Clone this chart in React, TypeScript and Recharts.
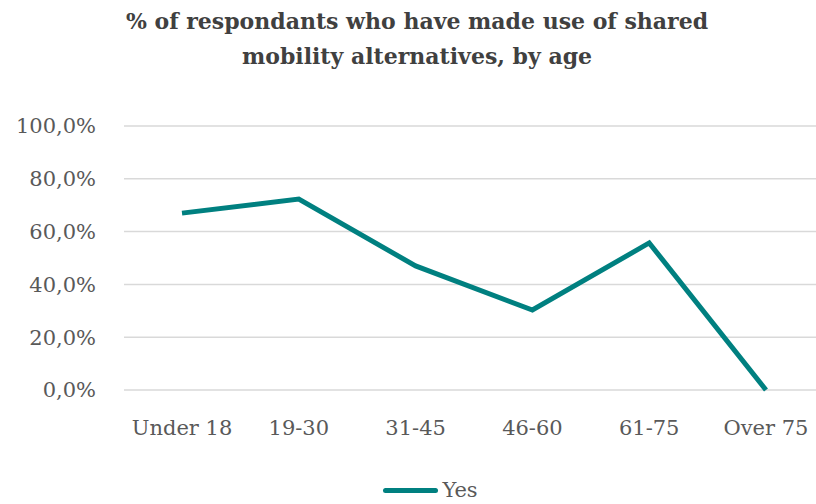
import { LineChart, Line, XAxis, YAxis, CartesianGrid, Legend } from "recharts";

const AGE_GROUPS = ["Under 18", "19-30", "31-45", "46-60", "61-75", "Over 75"];
const YES_SHARE = [0.67, 0.723, 0.47, 0.303, 0.557, 0];
const Y_TICKS = [0, 0.2, 0.4, 0.6, 0.8, 1];

const TEAL = "#008080";
const FONT = "'DejaVu Serif', serif";

const data = AGE_GROUPS.map((age, i) => ({ age, yes: YES_SHARE[i] }));

const fmtPct = (v: number) => (v * 100).toFixed(1).replace(".", ",") + "%";

function LegendContent() {
  return (
    <div
      style={{
        display: "flex",
        justifyContent: "center",
        alignItems: "center",
        fontFamily: FONT,
        fontSize: 21,
        color: "#595959",
      }}
    >
      <span
        style={{
          display: "inline-block",
          width: 55,
          height: 5,
          borderRadius: 3,
          background: TEAL,
          marginRight: 4,
        }}
      />
      Yes
    </div>
  );
}

export default function App() {
  return (
    <div style={{ position: "absolute", left: 0, top: 0, width: 816, height: 504, background: "#fff" }}>
      <div
        style={{
          position: "absolute",
          left: 0,
          width: 834,
          top: 4,
          textAlign: "center",
          fontFamily: FONT,
          fontWeight: "bold",
          fontSize: 22,
          lineHeight: "35px",
          color: "#404040",
        }}
      >
        % of respondants who have made use of shared
        <br />
        mobility alternatives, by age
      </div>
      <LineChart
        width={816}
        height={504}
        data={data}
        margin={{ top: 126, right: 0, left: 0, bottom: 24 }}
      >
        <CartesianGrid vertical={false} stroke="#d9d9d9" strokeWidth={1.5} />
        <XAxis
          dataKey="age"
          height={60}
          axisLine={false}
          tickLine={false}
          padding={{ left: 58, right: 50 }}
          tick={{ fontSize: 21, fill: "#595959", fontFamily: FONT }}
          tickMargin={24}
          interval={0}
        />
        <YAxis
          width={124}
          domain={[0, 1]}
          ticks={Y_TICKS}
          tickFormatter={fmtPct}
          axisLine={false}
          tickLine={false}
          tick={{ fontSize: 21, fill: "#595959", fontFamily: FONT }}
          tickMargin={22}
        />
        <Legend
          verticalAlign="bottom"
          height={30}
          content={LegendContent}
          wrapperStyle={{ bottom: -4, left: 0, width: 861 }}
        />
        <Line
          dataKey="yes"
          name="Yes"
          stroke={TEAL}
          strokeWidth={5}
          dot={false}
          activeDot={false}
          isAnimationActive={false}
        />
      </LineChart>
    </div>
  );
}
